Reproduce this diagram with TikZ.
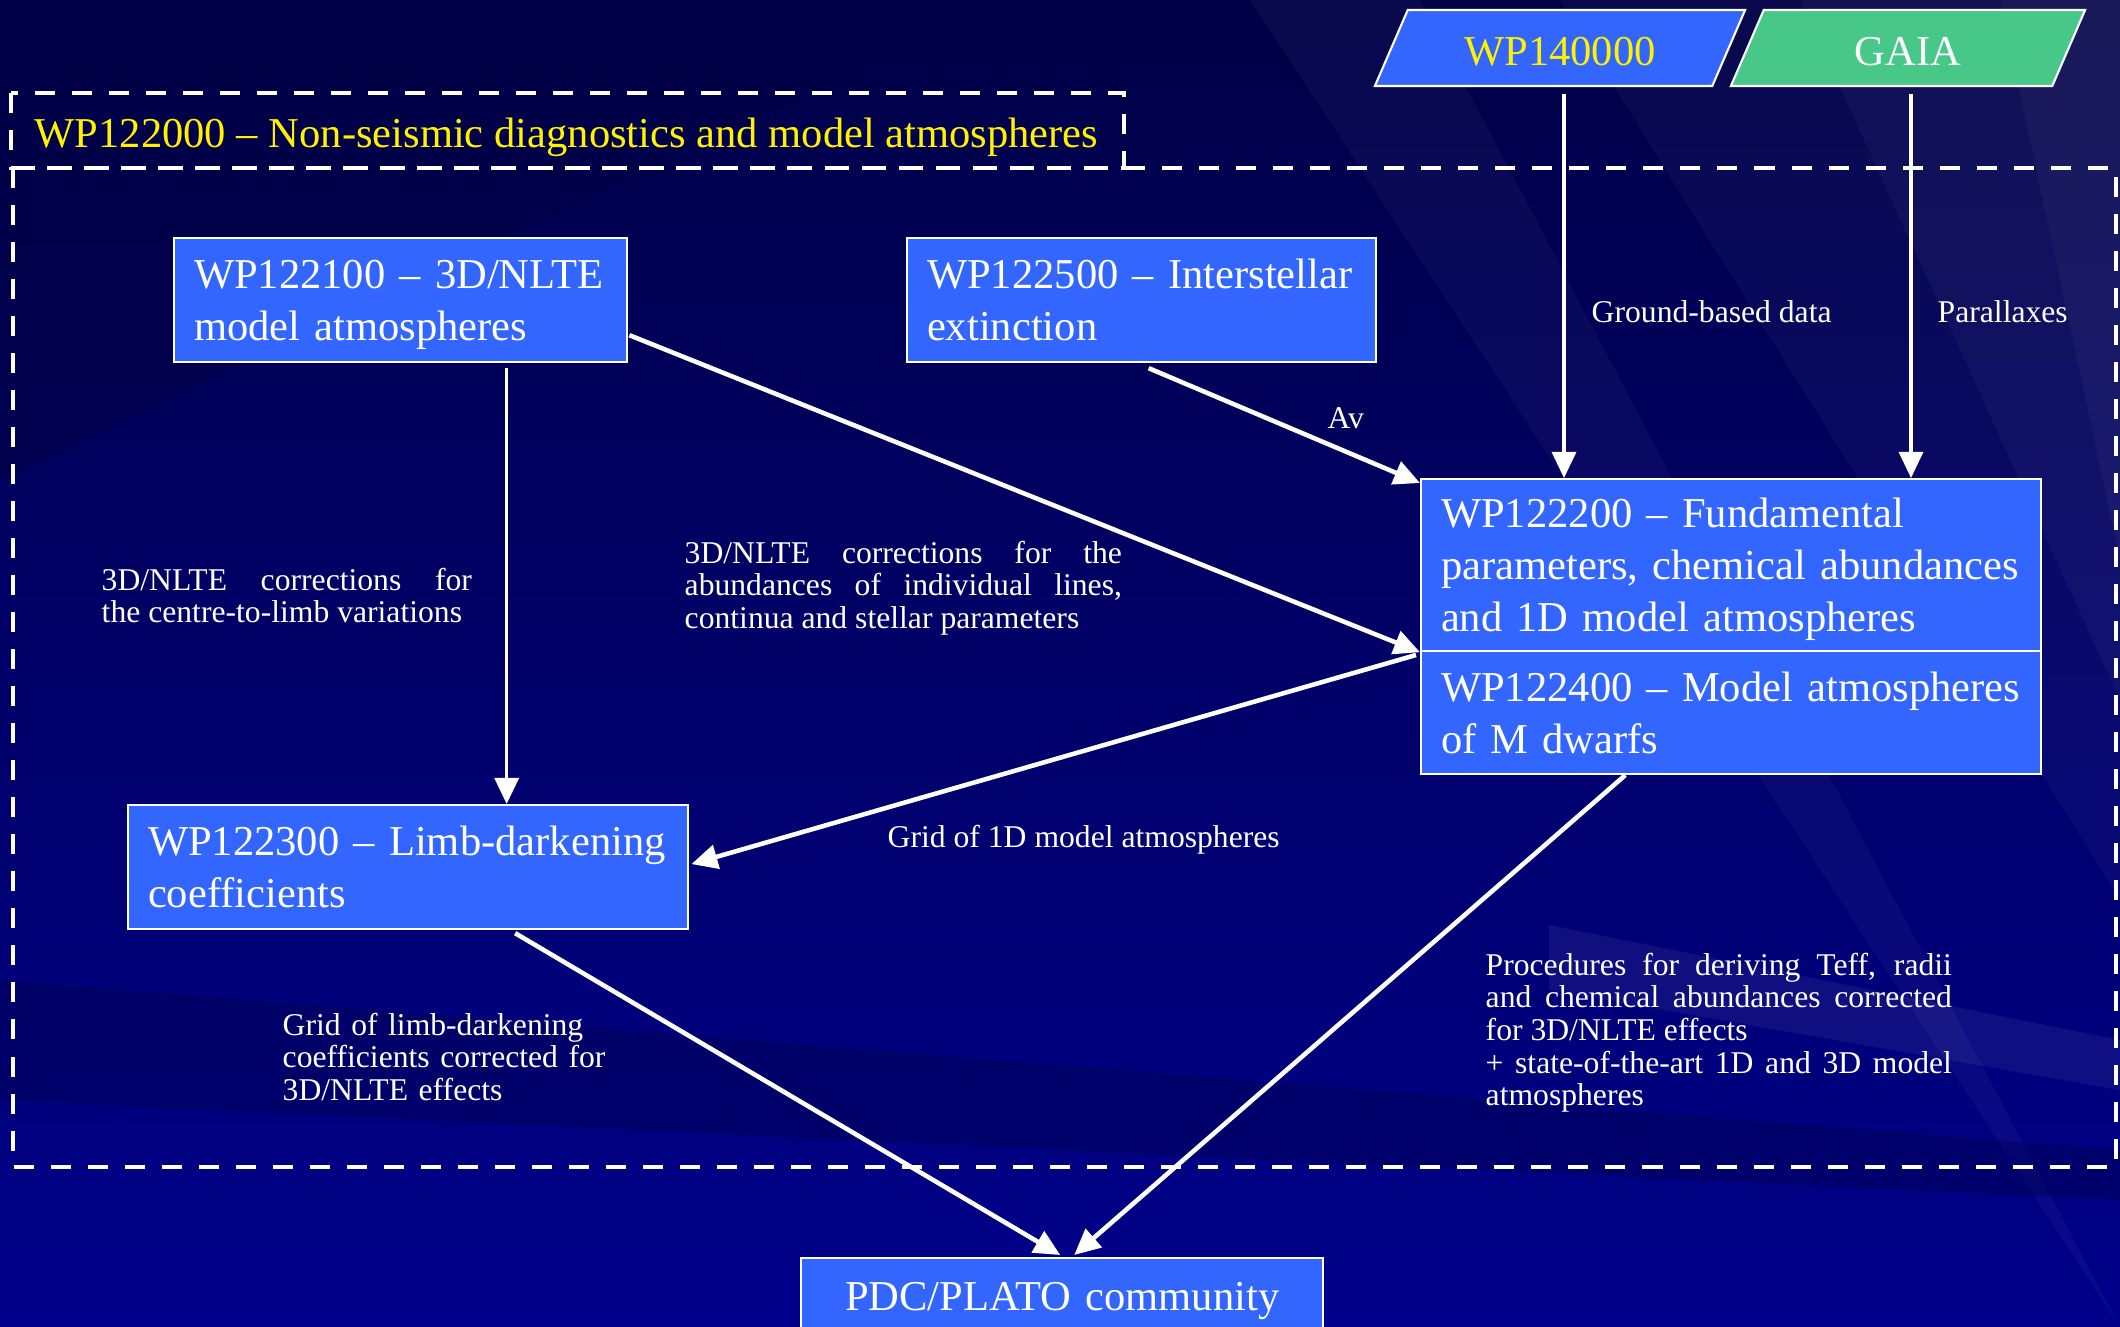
\documentclass[tikz,border=0pt]{standalone}
\usepackage{fontspec}
\setmainfont{Liberation Serif}
\usetikzlibrary{arrows.meta,calc,shapes.geometric}

\definecolor{bgdark}{RGB}{0,0,70}
\definecolor{bglight}{RGB}{0,0,138}
\definecolor{wpblue}{RGB}{51,102,255}
\definecolor{gaiagreen}{RGB}{72,200,136}

\tikzset{
  wpbox/.style={draw=white, line width=0.6pt, fill=wpblue, text=white, anchor=north west,
    inner xsep=0.2cm, inner ysep=0pt, align=left, font=\fontsize{12.1}{14.8}\selectfont},
  wptag/.style={trapezium, trapezium left angle=46, trapezium right angle=134,
    trapezium stretches body, draw=white, line width=0.6pt, minimum height=0.76cm,
    inner sep=0pt, text height=0.34cm, text depth=0cm, font=\fontsize{12.1}{14.8}\selectfont},
  note/.style={text=white, inner sep=0pt, anchor=base west, font=\fontsize{9}{9.3}\selectfont},
  wpframe/.style={draw=white, line width=1.4pt, dash pattern=on 0.2cm off 0.17cm},
  flow/.style={draw=white, line width=1.3pt, -{Triangle[length=0.26cm,width=0.24cm]}},
  feed/.style={flow, line width=0.9pt},
}

\begin{document}
\begin{tikzpicture}[x=0.01cm,y=-0.01cm]
\useasboundingbox (0,0) rectangle (2120,1327);
\clip (0,0) rectangle (2120,1327);

% background
\shade[top color=bgdark, bottom color=bglight] (0,0) rectangle (2120,1327);
\fill[bgdark, opacity=0.6] (0,0) -- (1000,0) -- (0,480) -- cycle;
\foreach \xa/\xb/\ya/\yb in {1250/1420/1327/1327, 1500/1560/0/900, 1720/1800/0/700, 1950/2000/0/560}
  \fill[white, opacity=0.035] (\xa,0) -- (\xb,0) -- (2120,\yb) -- (2120,\ya) -- cycle;
\fill[white, opacity=0.06] (1549,925) -- (2120,1040) -- (2120,1090) -- (1549,990) -- cycle;
\fill[bgdark, opacity=0.35] (0,980) -- (2120,1150) -- (2120,1200) -- (0,1100) -- cycle;

% frames
\draw[wpframe] (11,93) rectangle (1124,168);
\draw[wpframe] (13,168) rectangle (2116,1167);
\node[anchor=base west, inner sep=0pt, text=yellow, font=\fontsize{12.1}{14.8}\selectfont]
  (wp12) at (34,147) {WP122000 -- Non-seismic diagnostics and model atmospheres};

% inputs
\node[wptag, fill=wpblue, text=yellow, minimum width=3.70cm] (wp14) at (1560,48) {WP140000};
\node[wptag, fill=gaiagreen, text=white, minimum width=3.54cm] (gaia) at (1908,48) {GAIA};

% work packages
\node[wpbox, text width=4.13cm, minimum height=1.24cm] (wp21) at (173,237)
  {WP122100 -- 3D/NLTE\\\smash{model atmospheres}};
\node[wpbox, text width=4.29cm, minimum height=1.24cm] (wp25) at (906,237)
  {WP122500 -- Interstellar\\extinction};
\node[wpbox, text width=5.80cm, minimum height=1.72cm] (wp22) at (1420,478)
  {WP122200 -- Fundamental\\parameters, chemical abundances\\\raisebox{0pt}[\height][-0.055cm]{and 1D model atmospheres}};
\node[wpbox, text width=5.80cm, minimum height=1.23cm] (wp24) at (1420,650)
  {WP122400 -- Model atmospheres\\of M dwarfs};
\node[wpbox, text width=5.20cm, minimum height=1.24cm] (wp23) at (127,804)
  {WP122300 -- Limb-darkening\\coefficients};
\node[wpbox, text width=4.82cm, minimum height=0.86cm, align=center] (pdc) at (800,1257)
  {PDC/PLATO community};

% connectors
\coordinate (s14) at ($(wp14.south)+(4,7)$);
\coordinate (sgaia) at ($(gaia.south)+(3,7)$);
\draw[feed] (s14) -- (s14 |- wp22.north);
\draw[feed] (sgaia) -- (sgaia |- wp22.north);
\coordinate (s21) at ($(wp21.south)+(106,5)$);
\draw[feed] (s21) -- (s21 |- wp23.north);
\draw[flow] ($(wp21.south east)+(1,-28)$) -- (wp22.south west);
\draw[flow] ($(wp25.south)+(7,5)$) -- ($(wp22.north west)+(0,5)$);
\draw[flow] ($(wp24.north west)+(-4,5)$) -- ($(wp23.east)+(2,-3)$);
\draw[flow] ($(wp23.south)+(107,3)$) -- ($(pdc.north)+(-2,-2)$);
\draw[flow] ($(wp24.south)+(-106,0)$) -- ($(pdc.north)+(12,-2)$);

% labels
\node[note] (lground) at (1591,322) {Ground-based data};
\node[note] (lparal) at (1937,322) {Parallaxes};
\node[note] (lav) at (1327,428) {Av};
\node[note, text width=3.70cm, align=justify] (lclv) at (101,590)
  {3D/NLTE corrections for\linebreak the centre-to-limb variations};
\node[note, text width=4.37cm, align=justify] (labund) at (684,563)
  {3D/NLTE corrections for the\linebreak abundances of individual lines,\linebreak continua and stellar parameters};
\node[note] (lgrid) at (887,847) {Grid of 1D model atmospheres};
\node[note, text width=3.40cm, align=left] (llimb) at (282,1035)
  {Grid of limb-darkening\\coefficients corrected for\\3D/NLTE effects};
\node[note, text width=4.66cm, align=justify] (lproc) at (1485,975)
  {Procedures for deriving Teff, radii\linebreak and chemical abundances corrected\linebreak for 3D/NLTE effects\par
   + state-of-the-art 1D and 3D model\linebreak atmospheres};
\end{tikzpicture}
\end{document}
